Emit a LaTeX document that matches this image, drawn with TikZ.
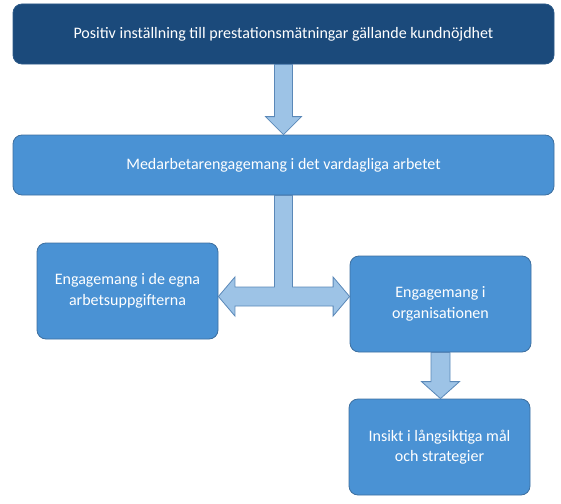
\documentclass[tikz,border=0pt]{standalone}
\usepackage{fontspec}
\setmainfont{Carlito}
\usetikzlibrary{calc}
\definecolor{darkbox}{HTML}{1B4A7B}
\definecolor{darkline}{HTML}{2C5A88}
\definecolor{midbox}{HTML}{4A92D4}
\definecolor{boxline}{HTML}{3D6F9F}
\definecolor{arrowfill}{HTML}{9DC3E6}
\definecolor{arrowline}{HTML}{5A88B8}
\tikzset{
  box/.style={draw=boxline, fill=midbox, rounded corners=9pt, text=white,
    align=center, line width=0.8pt, inner sep=0pt},
  wide box/.style={box, minimum width=541pt, minimum height=60pt,
    font={\fontsize{16}{19}\selectfont}},
  small box/.style={box, minimum width=181pt, minimum height=96pt,
    font={\fontsize{16}{20.5}\selectfont}},
  block arrow/.style={draw=arrowline, fill=arrowfill, line width=0.8pt},
}
% block arrow pointing down from #1.south to #2.north
\newcommand\downblock[4]{%
  \draw[block arrow] let \p1=(#1.south), \p2=(#2.north) in
    (\x1-#3,\y1) -- (\x1-#3,\y2+#4) -- (\x1-2*#3,\y2+#4) -- (\x1,\y2)
    -- (\x1+2*#3,\y2+#4) -- (\x1+#3,\y2+#4) -- (\x1+#3,\y1) -- cycle;}
\begin{document}
\begin{tikzpicture}[x=1pt, y=-1pt]
  \useasboundingbox (0,0) rectangle (561,503);
  % boxes
  \node[wide box, fill=darkbox, draw=darkline] (attitude) at (283.5,34)
    {Positiv inställning till prestationsmätningar gällande kundnöjdhet};
  \node[wide box] (everyday) at (283.5,165)
    {Medarbetarengagemang i det vardagliga arbetet};
  \node[small box] (tasks) at (127.5,291)
    {Engagemang i de egna\\arbetsuppgifterna};
  \node[small box] (organisation) at (440.5,304)
    {Engagemang i\\organisationen};
  \node[small box] (insight) at (439.5,447)
    {Insikt i långsiktiga mål\\och strategier};
  \coordinate (fork) at (284,296.5);
  % arrows
  \downblock{attitude}{everyday}{9pt}{18pt}
  \downblock{organisation}{insight}{9.5pt}{17pt}
  \draw[block arrow]
    let \p1=(everyday.south), \p2=(tasks.east), \p3=(organisation.west),
        \p4=(fork) in
    (\x1-9pt,\y1) -- (\x1-9pt,\y4+9.5pt) -- (\x2+16.5pt,\y4+9.5pt)
    -- (\x2+16.5pt,\y4+19.5pt) -- (\x2,\y4) -- (\x2+16.5pt,\y4-19.5pt)
    -- (\x2+16.5pt,\y4-9.5pt) -- (\x3-16.5pt,\y4-9.5pt)
    -- (\x3-16.5pt,\y4-19.5pt) -- (\x3,\y4) -- (\x3-16.5pt,\y4+19.5pt)
    -- (\x3-16.5pt,\y4+9.5pt) -- (\x1+9pt,\y4+9.5pt) -- (\x1+9pt,\y1)
    -- cycle;
\end{tikzpicture}
\end{document}
